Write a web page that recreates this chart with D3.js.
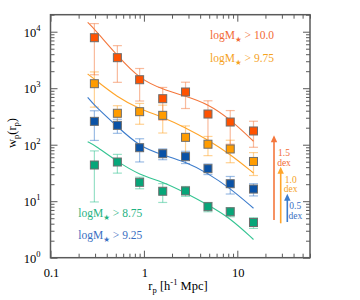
<!DOCTYPE html>
<html>
<head>
<meta charset="utf-8">
<script src="https://cdn.jsdelivr.net/npm/d3@7"></script>
<style>
  body { margin: 0; background: #fff; }
  text { font-family: "Liberation Serif", "DejaVu Serif", serif; }
</style>
</head>
<body>
<div id="chart"></div>
<script>
// projected separation bins (h^-1 Mpc)
const rBins = [0.295, 0.52, 0.90, 1.59, 2.79, 4.85, 8.4, 14.9];
const modelR = [0.25, 0.295, 0.52, 0.90, 1.59, 2.79, 4.85, 8.4, 14.9];

// measured w_p and errors per stellar-mass threshold
const wpM100 = [7830, 3470, 1413, 652, 857, 349, 252, 175];
const errM100 = [6100, 2200, 820, 380, 420, 250, 150, 85];
const wpM975 = [1202, 360, 384, 331, 135, 102, 84, 50.5];
const errM975 = [740, 130, 154, 170, 80, 38, 36, 22];
const wpM925 = [259, 220, 88.5, 69.3, 61.4, 37.6, 20.4, 16.4];
const errM925 = [140, 61, 39, 15, 15, 8, 7, 4];
const wpM875 = [43.7, 49.4, 21.6, 15.0, 15.2, 8.0, 6.5, 4.2];
const errM875 = [34, 18, 5, 5.5, 3, 1.5, 1.2, 0.9];

// model curves
const modM100 = [14660, 11170, 3760, 1455, 955, 724, 525, 282, 115];
const modM975 = [1782, 1455, 690, 428, 309, 200, 122, 67.6, 31.6];
const modM925 = [690, 494, 208, 92.3, 65.8, 50, 31.2, 16.9, 7.5];
const modM875 = [113, 98.9, 50, 29.1, 22.1, 14.1, 8.6, 5.0, 2.1];

const labels = ["10.0", "9.75", "9.25", "8.75"];
const xTicks = [0.1, 1, 10];
const yTicks = [1, 10, 100, 1000, 10000];
const arrowDex = [1.5, 1.0, 0.5];

const series = [
  {name: labels[0], wp: wpM100, err: errM100, mod: modM100, fill: "#ff5200", line: "#f4773c", text: "#f26b35"},
  {name: labels[1], wp: wpM975, err: errM975, mod: modM975, fill: "#ff9c00", line: "#ffa52a", text: "#f5a21e"},
  {name: labels[2], wp: wpM925, err: errM925, mod: modM925, fill: "#0a52a6", line: "#3c7ccc", text: "#3a6fc2"},
  {name: labels[3], wp: wpM875, err: errM875, mod: modM875, fill: "#06a679", line: "#34c492", text: "#1fb383"}
];

const W = 360, H = 300;
const margin = {top: 14.7, right: 50, bottom: 42.3, left: 50.5};

const svg = d3.select("#chart").append("svg")
  .attr("width", W).attr("height", H);

const x = d3.scaleLog().domain([0.1, 60]).range([margin.left, W - margin.right]);
const y = d3.scaleLog().domain([1, 2e4]).range([H - margin.bottom, margin.top]);

const minorX = [];
[0.1, 1, 10].forEach(d => { for (let k = 2; k <= 9; k++) if (d * k <= 60) minorX.push(d * k); });
const minorY = [];
[1, 10, 100, 1000, 10000].forEach(d => { for (let k = 2; k <= 9; k++) if (d * k <= 2e4) minorY.push(d * k); });

const frameColor = "#5a5a5a";

function axisGroup(axis, tx, ty) {
  const g = svg.append("g").attr("transform", `translate(${tx},${ty})`).call(axis);
  g.select(".domain").remove();
  g.selectAll("line").attr("stroke", frameColor).attr("stroke-width", 1);
  g.selectAll("text").remove();
  return g;
}

const y0 = H - margin.bottom, x1 = W - margin.right;
axisGroup(d3.axisBottom(x).tickValues(xTicks).tickSize(-7), 0, y0);
axisGroup(d3.axisBottom(x).tickValues(minorX).tickSize(-4), 0, y0);
axisGroup(d3.axisTop(x).tickValues(xTicks).tickSize(-7), 0, margin.top);
axisGroup(d3.axisTop(x).tickValues(minorX).tickSize(-4), 0, margin.top);
axisGroup(d3.axisLeft(y).tickValues(yTicks).tickSize(-7), margin.left, 0);
axisGroup(d3.axisLeft(y).tickValues(minorY).tickSize(-4), margin.left, 0);
axisGroup(d3.axisRight(y).tickValues(yTicks).tickSize(-7), x1, 0);
axisGroup(d3.axisRight(y).tickValues(minorY).tickSize(-4), x1, 0);

// x tick labels
svg.append("g").selectAll("text").data(xTicks).join("text")
  .attr("x", d => x(d) + 1)
  .attr("y", y0 + 19)
  .attr("text-anchor", "middle")
  .attr("font-size", 12.5)
  .text(d => d);

// y tick labels 10^n
const yl = svg.append("g").selectAll("text").data(yTicks).join("text")
  .attr("x", margin.left - 10)
  .attr("y", d => y(d) + 5)
  .attr("text-anchor", "end")
  .attr("font-size", 12.5);
yl.append("tspan").text("10");
yl.append("tspan").attr("dy", -6).attr("font-size", 8.5).text(d => Math.round(Math.log10(d)));

// axis titles
const xt = svg.append("text")
  .attr("x", 178).attr("y", 290)
  .attr("text-anchor", "middle").attr("font-size", 12.5);
xt.append("tspan").text("r");
xt.append("tspan").attr("dy", 3).attr("font-size", 8.5).text("p");
xt.append("tspan").attr("dy", -3).text(" [h");
xt.append("tspan").attr("dy", -5).attr("font-size", 8.5).text("-1");
xt.append("tspan").attr("dy", 5).text(" Mpc]");

const yt = svg.append("text")
  .attr("transform", "translate(16,133) rotate(-90)")
  .attr("text-anchor", "middle").attr("font-size", 12.5);
yt.append("tspan").text("w");
yt.append("tspan").attr("dy", 3).attr("font-size", 8.5).text("p");
yt.append("tspan").attr("dy", -3).text("(r");
yt.append("tspan").attr("dy", 3).attr("font-size", 8.5).text("p");
yt.append("tspan").attr("dy", -3).text(")");

// plot data
const plot = svg.append("g");
const line = d3.line().curve(d3.curveBasis)
  .x(d => x(d[0])).y(d => y(d[1]));

series.slice().reverse().forEach(s => {
  const pts = rBins.map((r, i) => ({r: r, v: s.wp[i], e: s.err[i]}));
  // error bars
  const eg = plot.append("g")
    .attr("stroke", s.line).attr("stroke-opacity", 0.5).attr("stroke-width", 1.2);
  eg.selectAll("line.v").data(pts).join("line")
    .attr("x1", d => x(d.r)).attr("x2", d => x(d.r))
    .attr("y1", d => y(Math.max(d.v - d.e, 0.5))).attr("y2", d => y(d.v + d.e));
  eg.selectAll("line.t").data(pts).join("line")
    .attr("x1", d => x(d.r) - 4.5).attr("x2", d => x(d.r) + 4.5)
    .attr("y1", d => y(d.v + d.e)).attr("y2", d => y(d.v + d.e));
  eg.selectAll("line.b").data(pts).join("line")
    .attr("x1", d => x(d.r) - 4.5).attr("x2", d => x(d.r) + 4.5)
    .attr("y1", d => y(Math.max(d.v - d.e, 0.5))).attr("y2", d => y(Math.max(d.v - d.e, 0.5)));
});

series.slice().reverse().forEach(s => {
  plot.append("path")
    .datum(modelR.map((r, i) => [r, s.mod[i]]))
    .attr("fill", "none")
    .attr("stroke", s.line)
    .attr("stroke-width", 1.1)
    .attr("d", line);
});

series.slice().reverse().forEach(s => {
  plot.append("g").selectAll("rect").data(rBins.map((r, i) => [r, s.wp[i]])).join("rect")
    .attr("x", d => x(d[0]) - 4)
    .attr("y", d => y(d[1]) - 4)
    .attr("width", 8).attr("height", 8)
    .attr("fill", s.fill)
    .attr("stroke", "#6e6e6e")
    .attr("stroke-width", 1);
});

// frame
svg.append("rect")
  .attr("x", margin.left).attr("y", margin.top)
  .attr("width", x1 - margin.left).attr("height", y0 - margin.top)
  .attr("fill", "none").attr("stroke", frameColor).attr("stroke-width", 1.5);

// legend labels
const legendPos = [[210, 39], [210, 62], [78.3, 239], [78.3, 217]];
series.forEach((s, i) => {
  const t = svg.append("text")
    .attr("x", legendPos[i][0]).attr("y", legendPos[i][1])
    .attr("font-size", 11.5).attr("fill", s.text);
  t.append("tspan").text("logM");
  t.append("tspan").attr("dy", 3).attr("font-size", 7.5)
    .style("font-family", "DejaVu Sans").text("\u2605");
  t.append("tspan").attr("dy", -3).text(" > " + s.name);
});

// dex arrows
const arrowX = [274, 280.7, 287.3];
const arrowBase = [220, 223.3, 222];
const arrowCol = [series[0].line, series[1].line, series[2].line];
const arrowTxt = [series[0].text, series[1].text, series[2].text];
const labelOff = [21, 16, 15.5];
const labelDx = [10, 10, 8];
arrowDex.forEach((dex, i) => {
  const len = y(1) - y(Math.pow(10, dex));
  const tip = arrowBase[i] - len;
  svg.append("line")
    .attr("x1", arrowX[i]).attr("x2", arrowX[i])
    .attr("y1", arrowBase[i]).attr("y2", tip + 5)
    .attr("stroke", arrowCol[i]).attr("stroke-width", 1.6);
  svg.append("path")
    .attr("d", `M${arrowX[i]},${tip} L${arrowX[i] - 3.2},${tip + 7} L${arrowX[i] + 3.2},${tip + 7} Z`)
    .attr("fill", arrowCol[i]);
  const lt = svg.append("text")
    .attr("x", arrowX[i] + labelDx[i]).attr("y", tip + labelOff[i])
    .attr("text-anchor", "middle").attr("font-size", 9.5).attr("fill", arrowTxt[i]);
  lt.append("tspan").text(dex.toFixed(1));
  lt.append("tspan").attr("x", arrowX[i] + labelDx[i]).attr("dy", 9.5).text("dex");
});
</script>
</body>
</html>
